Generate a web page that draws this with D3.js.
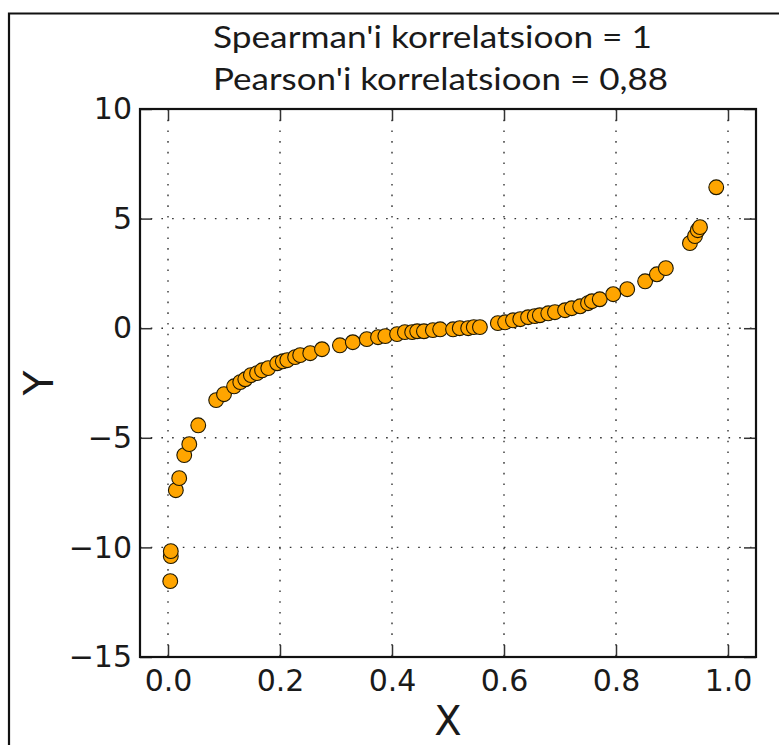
<!DOCTYPE html>
<meta charset="utf-8">
<!-- Load d3.js -->
<script src="https://d3js.org/d3.v7.min.js"></script>
<style>
  body { margin: 0; background: #fff; }
  .tick text { font-family: "DejaVu Sans", sans-serif; fill: #1a1a1a; }
</style>
<div id="my_dataviz"></div>
<script>

// title lines
var titleLines = ["Spearman'i korrelatsioon = 1", "Pearson'i korrelatsioon = 0,88"];

// data
var xValues = [0.004, 0.005, 0.005, 0.014, 0.020, 0.029, 0.038, 0.054, 0.086, 0.100,
               0.118, 0.129, 0.138, 0.148, 0.159, 0.168, 0.179, 0.195, 0.205, 0.213,
               0.227, 0.236, 0.254, 0.275, 0.307, 0.330, 0.355, 0.375, 0.388, 0.409,
               0.423, 0.436, 0.445, 0.457, 0.473, 0.486, 0.509, 0.521, 0.536, 0.546,
               0.557, 0.589, 0.602, 0.616, 0.629, 0.643, 0.655, 0.664, 0.679, 0.691,
               0.709, 0.721, 0.736, 0.750, 0.757, 0.771, 0.795, 0.820, 0.852, 0.873,
               0.889, 0.932, 0.941, 0.946, 0.950, 0.979];
var yValues = [-11.54, -10.40, -10.17, -7.39, -6.84, -5.79, -5.29, -4.43, -3.28, -3.01,
               -2.65, -2.46, -2.33, -2.14, -2.05, -1.92, -1.82, -1.60, -1.51, -1.46,
               -1.32, -1.23, -1.14, -0.96, -0.78, -0.64, -0.50, -0.41, -0.36, -0.27,
               -0.18, -0.18, -0.14, -0.14, -0.09, -0.05, -0.05, 0.00, 0.00, 0.05,
               0.05, 0.23, 0.27, 0.36, 0.41, 0.50, 0.55, 0.59, 0.68, 0.73,
               0.82, 0.91, 1.00, 1.14, 1.23, 1.32, 1.55, 1.78, 2.14, 2.46,
               2.74, 3.88, 4.20, 4.47, 4.61, 6.43];

// tick values
var xTicks = [0.0, 0.2, 0.4, 0.6, 0.8, 1.0];
var yTicks = [-15, -10, -5, 0, 5, 10];

var W = 779, H = 745;
var margin = {top: 109, right: 23, bottom: 88, left: 140},
    width = W - margin.left - margin.right,
    height = H - margin.top - margin.bottom;

var root = d3.select("#my_dataviz")
  .append("svg")
    .attr("width", W)
    .attr("height", H);

// outer frame (top and left edges only visible)
root.append("path")
  .attr("d", "M9,745 L9,13.5 L779,13.5")
  .attr("fill", "none")
  .attr("stroke", "#111")
  .attr("stroke-width", 2.2);

// title
root.selectAll(".title")
  .data(titleLines)
  .enter()
  .append("text")
    .attr("class", "title")
    .attr("x", 213)
    .attr("y", function(d, i) { return 48 + i * 42; })
    .attr("textLength", function(d, i) { return i == 0 ? 439 : 455; })
    .attr("lengthAdjust", "spacingAndGlyphs")
    .style("font-family", "Lato, sans-serif")
    .style("font-size", "30px")
    .style("fill", "#1a1a1a")
    .text(function(d) { return d; });

var svg = root.append("g")
  .attr("transform", "translate(" + margin.left + "," + margin.top + ")");

// scales
var x = d3.scaleLinear().domain([-0.05, 1.05]).range([0, width]);
var y = d3.scaleLinear().domain([-15, 10]).range([height, 0]);

// dotted grid
svg.append("g").selectAll("line")
  .data(xTicks)
  .enter()
  .append("line")
    .attr("x1", function(d) { return x(d); })
    .attr("x2", function(d) { return x(d); })
    .attr("y1", 0)
    .attr("y2", height)
    .attr("stroke", "#333")
    .attr("stroke-width", 1.4)
    .attr("stroke-dasharray", "1.6,9.1");
svg.append("g").selectAll("line")
  .data(yTicks)
  .enter()
  .append("line")
    .attr("x1", 0)
    .attr("x2", width)
    .attr("y1", function(d) { return y(d); })
    .attr("y2", function(d) { return y(d); })
    .attr("stroke", "#333")
    .attr("stroke-width", 1.4)
    .attr("stroke-dasharray", "1.6,9.1");

var fmtX = d3.format(".1f");
var fmtY = function(d) { return d < 0 ? "\u2212" + Math.abs(d) : "" + d; };

// axes with ticks pointing inward
var xAxis = svg.append("g")
  .attr("transform", "translate(0," + height + ")")
  .call(d3.axisBottom(x).tickValues(xTicks).tickFormat(fmtX).tickSize(-12).tickPadding(13));
var xTop = svg.append("g")
  .call(d3.axisTop(x).tickValues(xTicks).tickFormat("").tickSize(-12));
var yAxis = svg.append("g")
  .call(d3.axisLeft(y).tickValues(yTicks).tickFormat(fmtY).tickSize(-12).tickPadding(8));
var yRight = svg.append("g")
  .attr("transform", "translate(" + width + ",0)")
  .call(d3.axisRight(y).tickValues(yTicks).tickFormat("").tickSize(-12));

[xAxis, xTop, yAxis, yRight].forEach(function(a) {
  a.select(".domain").remove();
  a.selectAll(".tick line").attr("stroke", "#333").attr("stroke-width", 1.5);
  a.selectAll(".tick text").style("font-size", "30px");
});

// dots
svg.append("g")
  .selectAll("circle")
  .data(xValues)
  .enter()
  .append("circle")
    .attr("cx", function(d) { return x(d); })
    .attr("cy", function(d, i) { return y(yValues[i]); })
    .attr("r", 7.4)
    .style("fill", "#FFA500")
    .style("stroke", "#1f1800")
    .style("stroke-width", 1.1);

// spines
svg.append("rect")
  .attr("width", width)
  .attr("height", height)
  .attr("fill", "none")
  .attr("stroke", "#111")
  .attr("stroke-width", 2.2);

// axis labels
root.append("text")
  .attr("text-anchor", "middle")
  .attr("x", margin.left + width / 2)
  .attr("y", 735)
  .style("font-family", "DejaVu Sans, sans-serif")
  .style("font-size", "40px")
  .style("fill", "#1a1a1a")
  .text("X");

root.append("text")
  .attr("text-anchor", "middle")
  .attr("transform", "translate(53," + (margin.top + height / 2) + ") rotate(-90)")
  .style("font-family", "DejaVu Sans, sans-serif")
  .style("font-size", "41px")
  .style("fill", "#1a1a1a")
  .text("Y");

</script>
